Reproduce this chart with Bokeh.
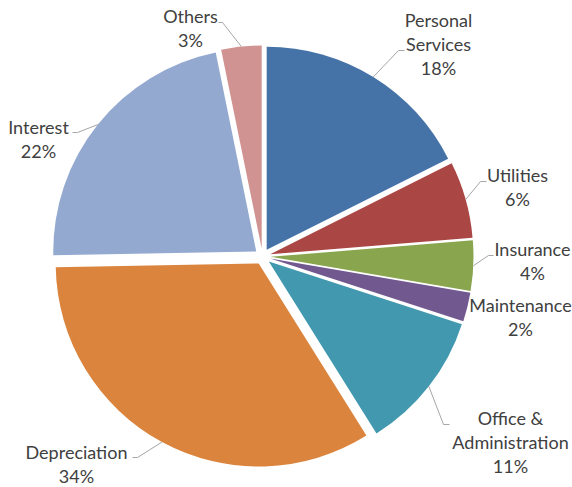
import math
from bokeh.plotting import figure
from bokeh.models import Range1d
from bokeh.core.properties import value
from bokeh.embed import file_html
from bokeh.resources import INLINE

# ---- data ----
categories = ["Personal\nServices", "Utilities", "Insurance", "Maintenance",
              "Office &\nAdministration", "Depreciation", "Interest", "Others"]
shares = [17.6, 6.1, 4.0, 2.3, 11.1, 33.6, 22.1, 3.2]
colors = ["#4572A7", "#AA4643", "#89A54E", "#71588F",
          "#4198AF", "#DB843D", "#93A9D0", "#D09392"]

# ---- layout (picture pixel coordinates; y measured downward) ----
W, H = 572, 487
CX, CY_IMG = 262, 256
R = 203
EXPLODE = 8
# label block: centre x, first-line y
label_pos = [(438, 19), (517, 174), (532, 248), (520, 304),
             (510, 417), (76, 451), (38, 126), (190, 15)]
LINE_STEP = 24
# leader elbow and end (None = no leader)
leaders = [((398, 50), (404, 50)), ((480, 181), (486, 181)),
           ((488, 255), (493, 255)), None,
           ((443, 424), (449, 424)), ((137, 457), (132, 457)),
           ((77, 132), (72, 132)), ((222, 22), (218, 22))]


def fy(y_img):
    return H - y_img


p = figure(width=W, height=H, output_backend="svg", toolbar_location=None,
           x_range=Range1d(0, W), y_range=Range1d(0, H),
           min_border=0, outline_line_color=None, background_fill_color="white",
           border_fill_color="white")
p.axis.visible = False
p.grid.visible = False

total = sum(shares)
cum = 0.0
xs, ys, starts, ends, mids = [], [], [], [], []
for s in shares:
    a0 = 90 - cum / total * 360
    cum += s
    a1 = 90 - cum / total * 360
    mid = math.radians((a0 + a1) / 2)
    mids.append(mid)
    xs.append(CX + EXPLODE * math.cos(mid))
    ys.append(fy(CY_IMG) + EXPLODE * math.sin(mid))
    starts.append(math.radians(a1))
    ends.append(math.radians(a0))

p.wedge(x=xs, y=ys, radius=R, start_angle=starts, end_angle=ends,
        fill_color=colors, line_color=None, direction="anticlock")

# leader lines
for i, ld in enumerate(leaders):
    if ld is None:
        continue
    m = mids[i]
    px = CX + (R + EXPLODE) * math.cos(m)
    py = fy(CY_IMG) + (R + EXPLODE) * math.sin(m)
    (ex, ey), (tx, ty) = ld
    p.line([px, ex, tx], [py, fy(ey), fy(ty)], line_color="#A6A6A6", line_width=1)

# labels
for i, cat in enumerate(categories):
    lines = cat.split("\n") + ["%d%%" % round(shares[i] / total * 100)]
    lx, ly = label_pos[i]
    p.text(x=[lx] * len(lines), y=[fy(ly + k * LINE_STEP) for k in range(len(lines))],
           text=lines, text_align="center", text_baseline="middle",
           text_font=value("Lato"), text_font_size="18px", text_color="#404040")

open("out.html", "w").write(file_html(p, INLINE))
